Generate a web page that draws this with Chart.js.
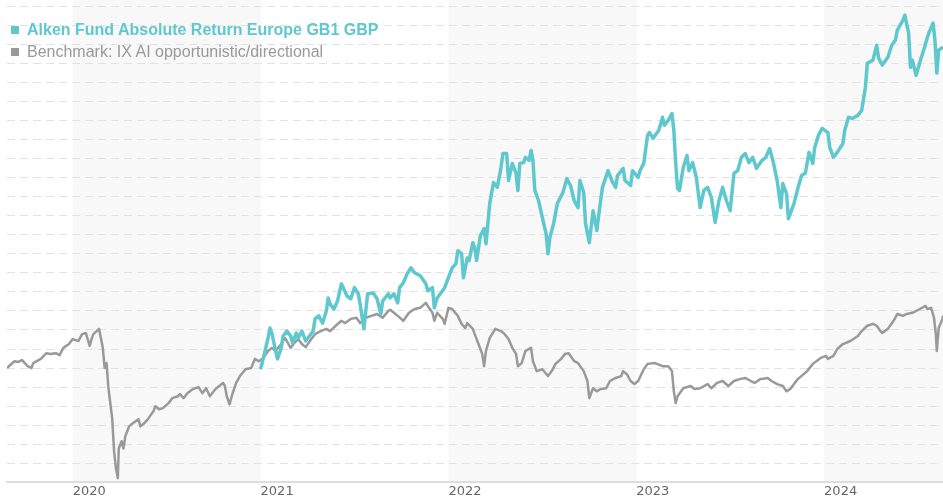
<!DOCTYPE html>
<html>
<head>
<meta charset="utf-8">
<script src="https://cdn.jsdelivr.net/npm/chart.js@4.4.1/dist/chart.umd.min.js"></script>
<style>
  body { margin: 0; background: #fff; }
  #wrap { position: relative; width: 943px; height: 500px; }
  #legend {
    position: absolute; left: 11px; top: 19px;
    font-family: "Liberation Sans", Arial, sans-serif; font-size: 16px; line-height: 22px;
    pointer-events: none; white-space: nowrap;
  }
  #legend .sq { display: inline-block; width: 8px; height: 8px; margin-right: 8px; vertical-align: 1px; }
  #legend .fund { color: #5ec8ce; font-weight: bold; }
  #legend .bench { color: #999; }
</style>
</head>
<body>
<div id="wrap">
  <canvas id="chart"></canvas>
  <div id="legend">
    <div class="fund"><span class="sq" style="background:#5ec8ce"></span>Alken Fund Absolute Return Europe GB1 GBP</div>
    <div class="bench"><span class="sq" style="background:#999"></span>Benchmark: IX AI opportunistic/directional</div>
  </div>
</div>
<script>
// x values are decimal years, y values are performance (start = 100)
const yearTicks = [2020, 2021, 2022, 2023, 2024];
const shadedYears = [2020, 2022, 2024];

const benchDates = [
  2019.65, 2019.69, 2019.71, 2019.73, 2019.76, 2019.78, 2019.79, 2019.83, 2019.86, 2019.88,
  2019.91, 2019.93, 2019.95, 2019.98, 2020.00, 2020.03, 2020.05, 2020.07, 2020.09, 2020.10,
  2020.11, 2020.14, 2020.16, 2020.17, 2020.18, 2020.19, 2020.21, 2020.22, 2020.23, 2020.24,
  2020.245, 2020.26, 2020.27, 2020.28, 2020.30, 2020.32, 2020.35, 2020.36, 2020.38, 2020.40,
  2020.43, 2020.44, 2020.46, 2020.48, 2020.51, 2020.53, 2020.56, 2020.57, 2020.59, 2020.61,
  2020.64, 2020.67, 2020.69, 2020.71, 2020.73, 2020.76, 2020.80, 2020.81, 2020.82, 2020.835,
  2020.85, 2020.87, 2020.89, 2020.92, 2020.95, 2020.97, 2020.99, 2021.01, 2021.04, 2021.06,
  2021.08, 2021.11, 2021.13, 2021.16, 2021.18, 2021.20, 2021.22, 2021.24, 2021.27, 2021.29,
  2021.32, 2021.35, 2021.37, 2021.40, 2021.43, 2021.45, 2021.48, 2021.51, 2021.53, 2021.56,
  2021.59, 2021.62, 2021.65, 2021.68, 2021.69, 2021.71, 2021.73, 2021.76, 2021.79, 2021.82,
  2021.85, 2021.88, 2021.89, 2021.915, 2021.925, 2021.94, 2021.97, 2021.98, 2022.00, 2022.02,
  2022.05, 2022.07, 2022.09, 2022.10, 2022.13, 2022.14, 2022.16, 2022.18, 2022.19, 2022.20,
  2022.22, 2022.25, 2022.28, 2022.30, 2022.32, 2022.34, 2022.36, 2022.37, 2022.39, 2022.41,
  2022.44, 2022.45, 2022.47, 2022.50, 2022.53, 2022.55, 2022.57, 2022.60, 2022.62, 2022.64,
  2022.67, 2022.69, 2022.72, 2022.74, 2022.75, 2022.77, 2022.79, 2022.81, 2022.84, 2022.86,
  2022.89, 2022.92, 2022.93, 2022.95, 2022.97, 2022.99, 2023.01, 2023.04, 2023.06, 2023.10,
  2023.14, 2023.17, 2023.19, 2023.20, 2023.21, 2023.22, 2023.25, 2023.29, 2023.31, 2023.34,
  2023.38, 2023.40, 2023.43, 2023.46, 2023.49, 2023.52, 2023.55, 2023.58, 2023.61, 2023.63,
  2023.66, 2023.70, 2023.72, 2023.75, 2023.78, 2023.80, 2023.82, 2023.86, 2023.91, 2023.94,
  2023.98, 2024.01, 2024.02, 2024.05, 2024.07, 2024.10, 2024.14, 2024.18, 2024.20, 2024.23,
  2024.26, 2024.28, 2024.30, 2024.31, 2024.34, 2024.37, 2024.39, 2024.42, 2024.44, 2024.47,
  2024.51, 2024.54, 2024.55, 2024.57, 2024.585, 2024.595, 2024.60, 2024.61, 2024.63, 2024.633
];
const benchValues = [
  100.0, 101.8, 101.6, 102.1, 100.5, 100.0, 101.3, 102.4, 103.9, 103.7,
  103.9, 103.4, 105.3, 106.3, 107.6, 107.1, 108.9, 109.2, 105.8, 107.6,
  108.9, 110.3, 105.3, 100.0, 101.3, 94.7, 86.8, 78.2, 73.7, 71.1,
  78.9, 80.8, 78.9, 82.1, 84.7, 85.5, 86.6, 84.7, 85.5, 86.6,
  88.7, 90.0, 89.2, 89.5, 90.8, 92.1, 92.6, 93.2, 92.1, 93.4,
  94.5, 95.0, 93.4, 94.7, 92.6, 94.5, 96.1, 95.3, 92.6, 90.5,
  93.2, 96.1, 97.9, 99.7, 100.0, 102.4, 101.8, 102.4, 104.5, 105.3,
  104.5, 106.3, 107.9, 105.3, 106.6, 107.6, 106.3, 105.5, 107.6, 108.9,
  109.7, 110.3, 109.7, 111.1, 112.4, 111.8, 112.9, 113.2, 111.8, 113.2,
  113.7, 114.2, 113.2, 115.0, 115.3, 114.5, 113.7, 112.4, 114.5, 115.5,
  115.8, 117.1, 116.3, 114.5, 112.4, 114.5, 112.9, 111.6, 115.8, 115.5,
  113.7, 111.6, 110.5, 111.8, 110.3, 108.9, 106.3, 103.7, 100.5, 104.5,
  107.9, 110.3, 109.7, 108.9, 107.6, 105.3, 103.7, 100.5, 101.3, 104.5,
  105.3, 101.8, 99.2, 99.7, 97.9, 99.2, 101.1, 102.4, 103.7, 103.9,
  101.8, 101.3, 99.2, 96.6, 92.1, 94.7, 93.9, 94.5, 94.7, 96.6,
  97.4, 97.9, 99.2, 98.4, 96.6, 95.8, 96.6, 99.7, 101.1, 101.3,
  100.5, 100.5, 99.2, 93.9, 90.8, 92.6, 94.7, 95.3, 94.5, 94.7,
  95.8, 94.7, 96.1, 96.6, 95.3, 96.6, 97.1, 97.4, 96.6, 96.1,
  97.1, 97.4, 96.6, 95.8, 95.3, 93.9, 94.5, 97.1, 99.2, 101.1,
  102.6, 103.2, 102.4, 103.2, 105.0, 106.3, 107.1, 108.4, 109.7, 111.1,
  111.6, 111.1, 109.7, 109.2, 110.3, 112.4, 114.2, 113.7, 114.2, 114.5,
  115.5, 116.3, 115.5, 115.8, 113.2, 108.9, 104.5, 110.5, 112.9, 113.7
];

const fundDates = [
  2021.00, 2021.02, 2021.04, 2021.05, 2021.06, 2021.08, 2021.09, 2021.11, 2021.12, 2021.14,
  2021.16, 2021.17, 2021.19, 2021.20, 2021.22, 2021.24, 2021.26, 2021.28, 2021.29, 2021.31,
  2021.33, 2021.35, 2021.36, 2021.37, 2021.39, 2021.41, 2021.43, 2021.44, 2021.46, 2021.48,
  2021.50, 2021.52, 2021.53, 2021.55, 2021.56, 2021.57, 2021.60, 2021.62, 2021.64, 2021.65,
  2021.68, 2021.69, 2021.71, 2021.73, 2021.74, 2021.76, 2021.78, 2021.80, 2021.82, 2021.85,
  2021.88, 2021.89, 2021.915, 2021.925, 2021.94, 2021.96, 2021.98, 2022.00, 2022.02, 2022.04,
  2022.05, 2022.07, 2022.08, 2022.10, 2022.11, 2022.13, 2022.14, 2022.15, 2022.17, 2022.19,
  2022.20, 2022.21, 2022.22, 2022.24, 2022.26, 2022.28, 2022.29, 2022.31, 2022.32, 2022.34,
  2022.36, 2022.37, 2022.38, 2022.40, 2022.41, 2022.43, 2022.44, 2022.45, 2022.46, 2022.48,
  2022.50, 2022.52, 2022.53, 2022.54, 2022.56, 2022.58, 2022.61, 2022.63, 2022.65, 2022.67,
  2022.69, 2022.70, 2022.72, 2022.73, 2022.75, 2022.77, 2022.79, 2022.81, 2022.82, 2022.85,
  2022.87, 2022.89, 2022.90, 2022.93, 2022.94, 2022.97, 2022.98, 2023.01, 2023.02, 2023.04,
  2023.06, 2023.07, 2023.09, 2023.12, 2023.14, 2023.15, 2023.17, 2023.19, 2023.20, 2023.21,
  2023.22, 2023.23, 2023.25, 2023.27, 2023.28, 2023.30, 2023.32, 2023.34, 2023.36, 2023.38,
  2023.40, 2023.42, 2023.44, 2023.46, 2023.48, 2023.50, 2023.52, 2023.54, 2023.56, 2023.58,
  2023.60, 2023.62, 2023.64, 2023.67, 2023.69, 2023.71, 2023.73, 2023.75, 2023.77, 2023.78,
  2023.80, 2023.81, 2023.84, 2023.86, 2023.88, 2023.90, 2023.92, 2023.94, 2023.95, 2023.97,
  2023.99, 2024.02, 2024.03, 2024.05, 2024.07, 2024.10, 2024.11, 2024.13, 2024.15, 2024.18,
  2024.20, 2024.22, 2024.23, 2024.26, 2024.28, 2024.29, 2024.31, 2024.34, 2024.36, 2024.38,
  2024.39, 2024.42, 2024.43, 2024.45, 2024.46, 2024.47, 2024.49, 2024.51, 2024.53, 2024.55,
  2024.56, 2024.58, 2024.59, 2024.60, 2024.61, 2024.633
];
const fundValues = [
  99.7, 103.7, 107.9, 110.5, 109.2, 104.5, 102.4, 105.3, 108.4, 109.7,
  108.4, 106.6, 109.2, 107.9, 109.7, 107.1, 108.4, 109.7, 112.9, 113.7,
  111.8, 115.0, 118.4, 116.8, 115.5, 117.6, 122.1, 121.1, 118.9, 118.2,
  121.1, 119.5, 116.8, 110.3, 115.0, 119.5, 119.7, 118.2, 114.2, 117.6,
  119.5, 118.4, 119.5, 117.1, 121.1, 122.4, 124.7, 126.3, 125.0, 124.2,
  122.1, 120.3, 121.1, 115.8, 118.4, 119.7, 121.1, 123.7, 126.3, 127.4,
  130.8, 130.0, 123.7, 128.9, 128.2, 132.9, 131.6, 128.2, 134.7, 136.6,
  132.6, 137.9, 143.2, 148.7, 147.4, 152.6, 156.3, 156.3, 149.2, 153.7,
  151.1, 146.6, 153.7, 153.9, 155.3, 154.5, 157.1, 154.5, 146.6, 143.9,
  139.5, 135.3, 130.0, 134.2, 137.9, 143.2, 146.1, 149.7, 147.9, 143.9,
  142.1, 149.2, 146.1, 137.9, 132.9, 141.3, 136.1, 143.9, 147.4, 151.8,
  149.2, 147.4, 150.5, 152.4, 149.2, 147.9, 151.8, 150.0, 151.8, 153.7,
  161.1, 161.8, 160.3, 162.4, 165.8, 163.7, 165.0, 166.8, 162.4, 153.7,
  147.1, 146.6, 152.6, 155.8, 151.8, 153.9, 150.0, 142.1, 146.6, 147.4,
  144.7, 138.2, 143.9, 147.4, 143.9, 141.3, 151.1, 151.8, 155.3, 156.3,
  153.9, 155.3, 152.4, 154.5, 155.3, 157.6, 153.9, 149.2, 142.1, 148.4,
  145.8, 139.2, 143.2, 147.1, 150.5, 151.1, 156.6, 153.7, 157.9, 161.1,
  162.9, 161.8, 157.9, 155.3, 156.6, 158.9, 162.4, 165.8, 165.5, 166.3,
  167.6, 173.7, 180.0, 180.8, 184.7, 181.3, 179.5, 181.6, 184.7, 186.1,
  188.7, 191.3, 192.6, 187.9, 178.9, 180.8, 176.8, 180.3, 183.4, 186.8,
  188.2, 190.5, 186.1, 177.4, 183.4, 184.2
];

const fundColor = '#5ec8ce';
const benchColor = '#999999';

// light grey background for every other calendar year
const yearBands = {
  id: 'yearBands',
  beforeDraw(chart) {
    const { ctx, chartArea, scales } = chart;
    const x = scales.x;
    ctx.save();
    ctx.fillStyle = '#f8f8f8';
    shadedYears.forEach(yr => {
      const x1 = Math.max(x.getPixelForValue(yr), chartArea.left);
      const x2 = Math.min(x.getPixelForValue(yr + 1), chartArea.right);
      ctx.fillRect(x1, 0, x2 - x1, chartArea.bottom);
    });
    ctx.restore();
  }
};

const ctx = document.getElementById('chart').getContext('2d');
const myChart = new Chart(ctx, {
  type: 'line',
  data: {
    datasets: [
      {
        label: 'Alken Fund Absolute Return Europe GB1 GBP',
        data: fundDates.map((d, i) => ({ x: d, y: fundValues[i] })),
        borderColor: fundColor,
        borderWidth: 3.5,
        pointRadius: 0,
        tension: 0,
        borderJoinStyle: 'round'
      },
      {
        label: 'Benchmark: IX AI opportunistic/directional',
        data: benchDates.map((d, i) => ({ x: d, y: benchValues[i] })),
        borderColor: benchColor,
        borderWidth: 2.5,
        pointRadius: 0,
        tension: 0,
        borderJoinStyle: 'round'
      }
    ]
  },
  options: {
    responsive: true,
    maintainAspectRatio: false,
    animation: false,
    layout: { padding: { left: 7, right: 0, top: 6, bottom: 0 } },
    plugins: {
      legend: { display: false },
      tooltip: { enabled: false }
    },
    scales: {
      x: {
        type: 'linear',
        min: 2019.65,
        max: 2024.633,
        afterBuildTicks: scale => {
          scale.ticks = yearTicks.map(v => ({ value: v }));
        },
        grid: { display: false, drawTicks: false },
        border: { display: true, color: '#dddddd', width: 2 },
        ticks: {
          align: 'start',
          color: '#666',
          padding: 1,
          maxRotation: 0,
          autoSkip: false,
          font: { family: 'DejaVu Sans', size: 13 },
          callback: v => String(v)
        }
      },
      y: {
        min: 70,
        max: 195,
        ticks: { display: false, stepSize: 5 },
        grid: { color: '#e2e2e2', drawTicks: false, lineWidth: 1 },
        border: { display: false, dash: [8, 5] }
      }
    }
  },
  plugins: [yearBands]
});
</script>
</body>
</html>
